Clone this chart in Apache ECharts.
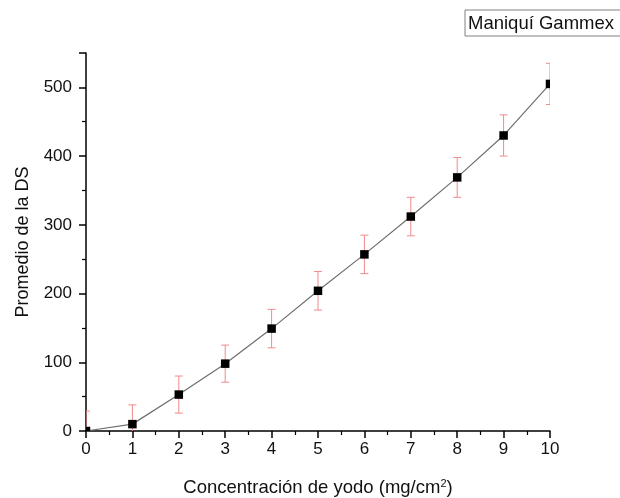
<!DOCTYPE html>
<html>
<head>
<meta charset="utf-8">
<script src="https://cdn.jsdelivr.net/npm/echarts@6/dist/echarts.min.js"></script>
<style>html,body{margin:0;padding:0;background:#fff}#c{width:620px;height:498px}</style>
</head>
<body>
<div id="c"></div>
<script>
const concentrations = [0, 1, 2, 3, 4, 5, 6, 7, 8, 9, 10];
const meanDS = [0, 10, 53, 98, 149, 204, 257, 312, 369, 430, 505];
const errorDS = [29, 28, 27, 27, 28, 28, 28, 28, 29, 30, 30];
const legendLabel = 'Maniquí Gammex';
const xTitle = 'Concentración de yodo (mg/cm{sup|2})';
const yTitle = 'Promedio de la DS';

const chart = echarts.init(document.getElementById('c'));
const font = 'Liberation Sans, Arial, sans-serif';
const pts = concentrations.map((x, i) => [x, meanDS[i]]);
const errData = concentrations.map((x, i) => [x, meanDS[i] - errorDS[i], meanDS[i] + errorDS[i]]);

chart.setOption({
  animation: false,
  graphic: [
    {
      type: 'group', x: 465, y: 10,
      children: [
        { type: 'rect', shape: { x: 0, y: 0, width: 175, height: 26 }, style: { fill: '#fff', stroke: '#808080', lineWidth: 1 } },
        { type: 'text', x: 3, y: 4, style: { text: legendLabel, fontFamily: font, fontSize: 18.5, fill: '#111' } }
      ]
    }
  ],
  grid: { left: 86, right: 70, top: 53, bottom: 67, containLabel: false, outerBoundsMode: 'none' },
  xAxis: {
    type: 'value', min: 0, max: 10, interval: 1,
    name: xTitle, nameLocation: 'middle', nameGap: 47,
    nameTextStyle: {
      fontFamily: font, fontSize: 18.5, color: '#111',
      rich: { sup: { fontSize: 11, verticalAlign: 'top', padding: [0, 0, 9, 0], fontFamily: font, color: '#111' } }
    },
    axisLine: { lineStyle: { color: '#000', width: 1.5 } },
    axisTick: { length: 7, lineStyle: { color: '#000', width: 1.5 } },
    minorTick: { show: true, splitNumber: 2, length: 4, lineStyle: { color: '#000', width: 1.2 } },
    axisLabel: { fontFamily: font, fontSize: 17, color: '#111', margin: 10 },
    splitLine: { show: false }
  },
  yAxis: {
    type: 'value', min: 0, max: 550, interval: 100,
    name: yTitle, nameLocation: 'middle', nameGap: 54,
    nameTextStyle: { fontFamily: font, fontSize: 18, color: '#111' },
    axisLine: { show: true, lineStyle: { color: '#000', width: 1.5 } },
    axisTick: { show: true, length: 7, lineStyle: { color: '#000', width: 1.5 } },
    minorTick: { show: true, splitNumber: 2, length: 4, lineStyle: { color: '#000', width: 1.2 } },
    axisLabel: { fontFamily: font, fontSize: 17, color: '#111', margin: 14,
      formatter: v => (v > 500 ? '' : String(v)) },
    splitLine: { show: false }
  },
  series: [
    {
      type: 'line',
      data: pts,
      z: 2,
      showSymbol: false,
      symbol: 'none',
      lineStyle: { color: '#6e6e6e', width: 1.2 },
      clip: true
    },
    {
      type: 'custom',
      clip: true,
      data: errData,
      encode: { x: 0, y: [1, 2] },
      z: 1,
      renderItem: function (params, api) {
        const x = api.value(0);
        const lo = api.coord([x, api.value(1)]);
        const hi = api.coord([x, api.value(2)]);
        const w = 4;
        const style = { stroke: '#f08a8a', lineWidth: 1 };
        return {
          type: 'group',
          children: [
            { type: 'line', shape: { x1: hi[0], y1: hi[1], x2: lo[0], y2: lo[1] }, style },
            { type: 'line', shape: { x1: hi[0] - w, y1: hi[1], x2: hi[0] + w, y2: hi[1] }, style },
            { type: 'line', shape: { x1: lo[0] - w, y1: lo[1], x2: lo[0] + w, y2: lo[1] }, style }
          ]
        };
      }
    },
    {
      type: 'custom',
      clip: true,
      data: pts,
      encode: { x: 0, y: 1 },
      z: 3,
      renderItem: function (params, api) {
        const c = api.coord([api.value(0), api.value(1)]);
        const s = 8.5;
        return { type: 'rect', shape: { x: c[0] - s / 2, y: c[1] - s / 2, width: s, height: s }, style: { fill: '#000' } };
      }
    }
  ]
});
</script>
</body>
</html>
